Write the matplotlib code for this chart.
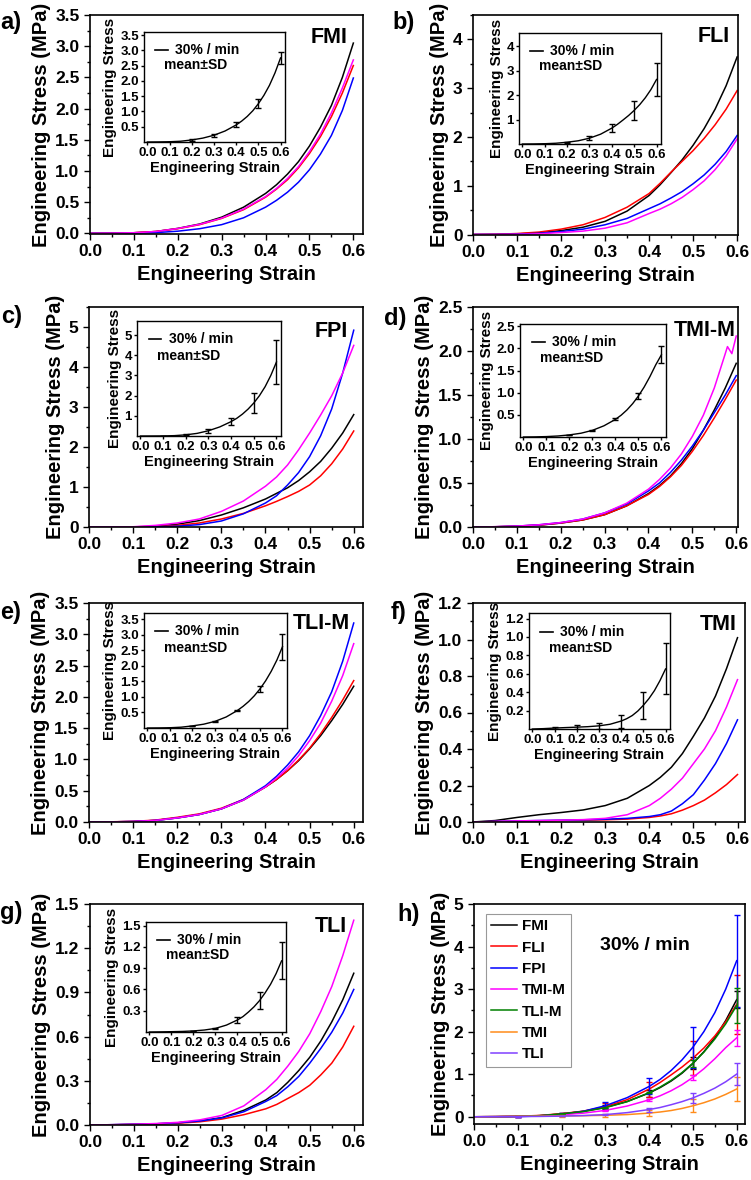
import numpy as np
import matplotlib
matplotlib.use("Agg")
import matplotlib.pyplot as plt
from matplotlib.ticker import MultipleLocator, FormatStrFormatter, AutoMinorLocator, FixedLocator
from matplotlib.lines import Line2D

plt.rcParams['font.family'] = ['Liberation Sans', 'DejaVu Sans']
plt.rcParams['font.weight'] = 'bold'
plt.rcParams['axes.labelweight'] = 'bold'

# ---------------- data ----------------
STRAIN = [0.0, 0.05, 0.1, 0.15, 0.2, 0.25, 0.3, 0.35, 0.4, 0.425, 0.45,
          0.475, 0.5, 0.525, 0.55, 0.575, 0.6]
SD_STRAIN = [0.1, 0.2, 0.3, 0.4, 0.5, 0.6]

SAMPLES = ["FMI", "FLI", "FPI", "TMI-M", "TLI-M", "TMI", "TLI"]
LETTERS = ["a)", "b)", "c)", "d)", "e)", "f)", "g)", "h)"]

# a) FMI  (specimen 1..4)
FMI_1 = [0, .003, .01, .03, .08, .15, .26, .42, .64, .78, .95, 1.15, 1.40, 1.70, 2.05, 2.50, 3.05]
FMI_2 = [0, .003, .01, .03, .075, .14, .24, .38, .58, .71, .86, 1.05, 1.28, 1.55, 1.87, 2.25, 2.69]
FMI_3 = [0, .001, .004, .012, .035, .075, .14, .25, .42, .53, .66, .82, 1.02, 1.27, 1.57, 1.97, 2.49]
FMI_4 = [0, .003, .01, .03, .078, .145, .245, .39, .59, .72, .88, 1.07, 1.31, 1.59, 1.93, 2.33, 2.78]
# b) FLI
FLI_1 = [0, .003, .012, .035, .08, .15, .27, .48, .80, 1.02, 1.27, 1.53, 1.83, 2.17, 2.57, 3.05, 3.64]
FLI_2 = [0, .005, .02, .05, .11, .20, .35, .56, .84, 1.05, 1.28, 1.50, 1.72, 1.97, 2.25, 2.57, 2.95]
FLI_3 = [0, .002, .008, .025, .06, .11, .20, .33, .53, .63, .75, .88, 1.04, 1.22, 1.44, 1.70, 2.03]
FLI_4 = [0, .001, .005, .015, .04, .07, .13, .24, .43, .52, .63, .76, .92, 1.10, 1.33, 1.61, 1.96]
# c) FPI
FPI_1 = [0, .001, .004, .015, .07, .16, .30, .48, .70, .84, .98, 1.16, 1.38, 1.64, 1.97, 2.35, 2.81]
FPI_2 = [0, .001, .004, .012, .04, .10, .20, .34, .53, .64, .76, .89, 1.05, 1.28, 1.58, 1.95, 2.40]
FPI_3 = [0, .001, .002, .006, .02, .06, .15, .33, .60, .78, 1.05, 1.36, 1.76, 2.28, 2.95, 3.85, 4.92]
FPI_4 = [0, .002, .006, .04, .10, .20, .39, .65, 1.02, 1.25, 1.55, 1.93, 2.35, 2.80, 3.28, 3.85, 4.54]
# d) TMI-M
TMIM_1 = [0, .002, .008, .02, .045, .08, .14, .24, .38, .47, .58, .72, .89, 1.10, 1.33, 1.58, 1.86]
TMIM_2 = [0, .003, .01, .022, .045, .08, .14, .24, .37, .46, .57, .70, .86, 1.04, 1.24, 1.45, 1.67]
TMIM_3 = [0, .003, .01, .025, .05, .09, .16, .26, .41, .50, .62, .76, .92, 1.10, 1.30, 1.50, 1.72]
TMIM_4_STRAIN = [0.0, 0.05, 0.1, 0.15, 0.2, 0.25, 0.3, 0.35, 0.4, 0.425, 0.45,
                 0.475, 0.5, 0.525, 0.55, 0.575, 0.58, 0.59, 0.6]
TMIM_4 = [0, .003, .01, .025, .05, .09, .16, .27, .43, .54, .67, .83, 1.03, 1.27, 1.58, 1.97, 2.05, 1.97, 2.17]
# e) TLI-M
TLIM_1 = [0, .002, .008, .025, .065, .12, .21, .35, .56, .68, .82, .98, 1.17, 1.38, 1.62, 1.88, 2.17]
TLIM_2 = [0, .003, .01, .03, .075, .13, .22, .36, .56, .68, .82, .99, 1.18, 1.41, 1.67, 1.95, 2.26]
TLIM_3 = [0, .002, .008, .025, .065, .12, .21, .36, .58, .73, .91, 1.12, 1.38, 1.70, 2.08, 2.57, 3.18]
TLIM_4 = [0, .002, .008, .025, .065, .12, .21, .35, .56, .70, .86, 1.06, 1.30, 1.58, 1.93, 2.34, 2.85]
# f) TMI
TMI_1 = [0, .008, .025, .04, .052, .066, .09, .13, .20, .245, .30, .375, .47, .57, .69, .84, 1.01]
TMI_2 = [0, .002, .004, .006, .008, .01, .012, .016, .025, .033, .045, .065, .09, .12, .16, .205, .26]
TMI_3 = [0, .003, .006, .008, .01, .012, .015, .02, .03, .04, .06, .10, .15, .23, .32, .43, .56]
TMI_4 = [0, .003, .006, .008, .01, .013, .02, .04, .09, .13, .18, .24, .32, .40, .50, .63, .78]
# g) TLI
TLI_1 = [0, .002, .005, .008, .015, .028, .05, .10, .17, .22, .29, .37, .46, .57, .70, .85, 1.03]
TLI_2 = [0, .001, .003, .006, .012, .022, .04, .07, .11, .14, .18, .22, .27, .34, .42, .53, .67]
TLI_3 = [0, .002, .005, .008, .015, .027, .048, .09, .16, .20, .26, .33, .42, .52, .63, .76, .92]
TLI_4 = [0, .002, .005, .01, .018, .035, .065, .13, .24, .31, .40, .50, .62, .77, .94, 1.15, 1.39]

CURVES = {
    "FMI": [(STRAIN, FMI_1), (STRAIN, FMI_2), (STRAIN, FMI_3), (STRAIN, FMI_4)],
    "FLI": [(STRAIN, FLI_1), (STRAIN, FLI_2), (STRAIN, FLI_3), (STRAIN, FLI_4)],
    "FPI": [(STRAIN, FPI_1), (STRAIN, FPI_2), (STRAIN, FPI_3), (STRAIN, FPI_4)],
    "TMI-M": [(STRAIN, TMIM_1), (STRAIN, TMIM_2), (STRAIN, TMIM_3), (TMIM_4_STRAIN, TMIM_4)],
    "TLI-M": [(STRAIN, TLIM_1), (STRAIN, TLIM_2), (STRAIN, TLIM_3), (STRAIN, TLIM_4)],
    "TMI": [(STRAIN, TMI_1), (STRAIN, TMI_2), (STRAIN, TMI_3), (STRAIN, TMI_4)],
    "TLI": [(STRAIN, TLI_1), (STRAIN, TLI_2), (STRAIN, TLI_3), (STRAIN, TLI_4)],
}

SPEC_COLORS = ["#000000", "#ff0000", "#0000ff", "#ff00ff"]
SAMPLE_COLORS = ["#000000", "#ff0000", "#0000ff", "#ff00ff", "#008000", "#ff8c1a", "#8040ff"]


def mean_sd(name):
    ys = np.array([np.interp(STRAIN, xs, v) for xs, v in CURVES[name]])
    m = ys.mean(axis=0)
    idx = [STRAIN.index(s) for s in SD_STRAIN]
    sd = ys.std(axis=0)[idx]
    return m, m[idx], sd

# ---------------- layout ----------------
W, H = 751, 1180


def rect(l, t, r, b):
    return [l / W, 1 - b / H, (r - l) / W, (b - t) / H]


MAIN_RECTS = [(90, 15, 363, 234), (473, 15, 738, 235), (89, 307, 363, 527),
              (473, 307, 738, 527), (89, 603, 363, 822), (473, 603, 745, 822),
              (90, 904, 363, 1125)]
XMAX = [0.622, 0.602, 0.621, 0.604, 0.621, 0.617, 0.621]
YLIM = [(-0.01, 3.5), (-0.01, 4.5), (0, 5.5), (0, 2.5), (0, 3.5), (0, 1.2), (0, 1.5)]
YSTEP = [0.5, 1, 1, 0.5, 0.5, 0.2, 0.3]
YFMT = ['%.1f', '%d', '%d', '%.1f', '%.1f', '%.1f', '%.1f']
NAME_POS = [(0.945, 0.897), (0.97, 0.902), (0.945, 0.89), (0.99, 0.895),
            (0.953, 0.906), (0.97, 0.90), (0.94, 0.90)]
INSET_RECTS = [(144, 32, 285, 142), (519, 33, 661, 144), (137, 321, 281, 436),
               (520, 324, 666, 437), (144, 613, 287, 728), (529, 613, 670, 729),
               (146, 922, 286, 1032)]
INSET_YLIM = [(0, 3.6), (0, 4.55), (0, 5.7), (0, 2.55), (0, 3.7), (0, 1.26), (0, 1.55)]
INSET_YTICKS = [[0.5, 1.0, 1.5, 2.0, 2.5, 3.0, 3.5], [1, 2, 3, 4], [1, 2, 3, 4, 5],
                [0.5, 1.0, 1.5, 2.0, 2.5], [0.5, 1.0, 1.5, 2.0, 2.5, 3.0, 3.5],
                [0.2, 0.4, 0.6, 0.8, 1.0, 1.2], [0.3, 0.6, 0.9, 1.2, 1.5]]
INSET_YFMT = ['%.1f', '%d', '%d', '%.1f', '%.1f', '%.1f', '%.1f']
LETTER_POS = [(0, 23), (392, 23), (1, 317), (384, 318), (0, 612), (391, 612), (0, 913), (397, 914)]

fig = plt.figure(figsize=(W / 100, H / 100), dpi=100)


def style_axes(ax, fs, major_len=4, lw=1.2):
    for s in ax.spines.values():
        s.set_linewidth(lw)
    ax.tick_params(which='both', direction='out', labelsize=fs, width=1.0)
    ax.tick_params(which='major', length=major_len)
    ax.tick_params(which='minor', length=major_len * 0.55)
    for lab in ax.get_xticklabels() + ax.get_yticklabels():
        lab.set_fontweight('bold')


for i, name in enumerate(SAMPLES):
    ax = fig.add_axes(rect(*MAIN_RECTS[i]))
    for (xs, ys), c in zip(CURVES[name], SPEC_COLORS):
        ax.plot(xs, ys, color=c, lw=1.1)
    ax.set_xlim(0, XMAX[i])
    ax.set_ylim(*YLIM[i])
    ax.xaxis.set_major_locator(MultipleLocator(0.1))
    ax.xaxis.set_minor_locator(MultipleLocator(0.05))
    ax.xaxis.set_major_formatter(FormatStrFormatter('%.1f'))
    ax.yaxis.set_major_locator(MultipleLocator(YSTEP[i]))
    ax.yaxis.set_minor_locator(AutoMinorLocator(2))
    ax.yaxis.set_major_formatter(FormatStrFormatter(YFMT[i]))
    style_axes(ax, 12.5)
    ax.set_xlabel("Engineering Strain", fontsize=14.5, fontweight='bold', labelpad=4)
    ax.set_ylabel("Engineering Stress (MPa)", fontsize=14.5, fontweight='bold', labelpad=3)
    ax.text(NAME_POS[i][0], NAME_POS[i][1], name, transform=ax.transAxes,
            ha='right', va='center', fontsize=15.5, fontweight='bold')

    # inset
    m, mpts, sd = mean_sd(name)
    ins = fig.add_axes(rect(*INSET_RECTS[i]))
    ins.plot(STRAIN, m, color='black', lw=1.0)
    ins.errorbar(SD_STRAIN, mpts, yerr=sd, fmt='none', ecolor='black',
                 elinewidth=1.0, capsize=2, capthick=1.0)
    ins.set_xlim(-0.015, 0.62)
    ins.set_ylim(*INSET_YLIM[i])
    ins.xaxis.set_major_locator(MultipleLocator(0.1))
    ins.xaxis.set_major_formatter(FormatStrFormatter('%.1f'))
    ins.yaxis.set_major_locator(FixedLocator(INSET_YTICKS[i]))
    ins.yaxis.set_major_formatter(FormatStrFormatter(INSET_YFMT[i]))
    style_axes(ins, 9.5, major_len=2.5, lw=1.0)
    ins.tick_params(pad=1.2)
    ins.set_xlabel("Engineering Strain", fontsize=10.5, fontweight='bold', labelpad=1)
    ins.set_ylabel("Engineering Stress", fontsize=11, fontweight='bold', labelpad=2)
    ins.add_line(Line2D([0.08, 0.17], [0.84, 0.84], transform=ins.transAxes,
                        color='black', lw=1.2))
    ins.text(0.22, 0.84, "30% / min", transform=ins.transAxes, ha='left',
             va='center', fontsize=10, fontweight='bold')
    ins.text(0.14, 0.70, "mean\u00b1SD", transform=ins.transAxes, ha='left',
             va='center', fontsize=10, fontweight='bold')

# panel h
axh = fig.add_axes(rect(474, 904, 745, 1124))
for name, c in zip(SAMPLES, SAMPLE_COLORS):
    m, mpts, sd = mean_sd(name)
    axh.plot(STRAIN, m, color=c, lw=1.1, label=name)
    axh.errorbar(SD_STRAIN, mpts, yerr=sd, fmt='none', ecolor=c,
                 elinewidth=1.0, capsize=2.5, capthick=1.0)
axh.set_xlim(0, 0.619)
axh.set_ylim(-0.17, 5.0)
axh.xaxis.set_major_locator(MultipleLocator(0.1))
axh.xaxis.set_minor_locator(MultipleLocator(0.05))
axh.xaxis.set_major_formatter(FormatStrFormatter('%.1f'))
axh.yaxis.set_major_locator(MultipleLocator(1))
axh.yaxis.set_minor_locator(AutoMinorLocator(2))
axh.yaxis.set_major_formatter(FormatStrFormatter('%d'))
style_axes(axh, 12.5)
axh.set_xlabel("Engineering Strain", fontsize=14.5, fontweight='bold', labelpad=4)
axh.set_ylabel("Engineering Stress (MPa)", fontsize=14.5, fontweight='bold', labelpad=3)
leg = axh.legend(loc='upper left', bbox_to_anchor=(0.044, 0.955), borderaxespad=0,
                 fontsize=11, frameon=True, fancybox=False, edgecolor='#808080',
                 handlelength=1.7, handletextpad=0.3, borderpad=0.35, labelspacing=0.48)
leg.get_frame().set_linewidth(0.8)
for t in leg.get_texts():
    t.set_fontweight('bold')
axh.text(0.63, 0.81, "30% / min", transform=axh.transAxes, ha='center', va='center',
         fontsize=14, fontweight='bold')

for lab, (x, y) in zip(LETTERS, LETTER_POS):
    fig.text(x / W, 1 - y / H, lab, ha='left', va='center', fontsize=17, fontweight='bold')

fig.savefig("out.png", dpi=100)
